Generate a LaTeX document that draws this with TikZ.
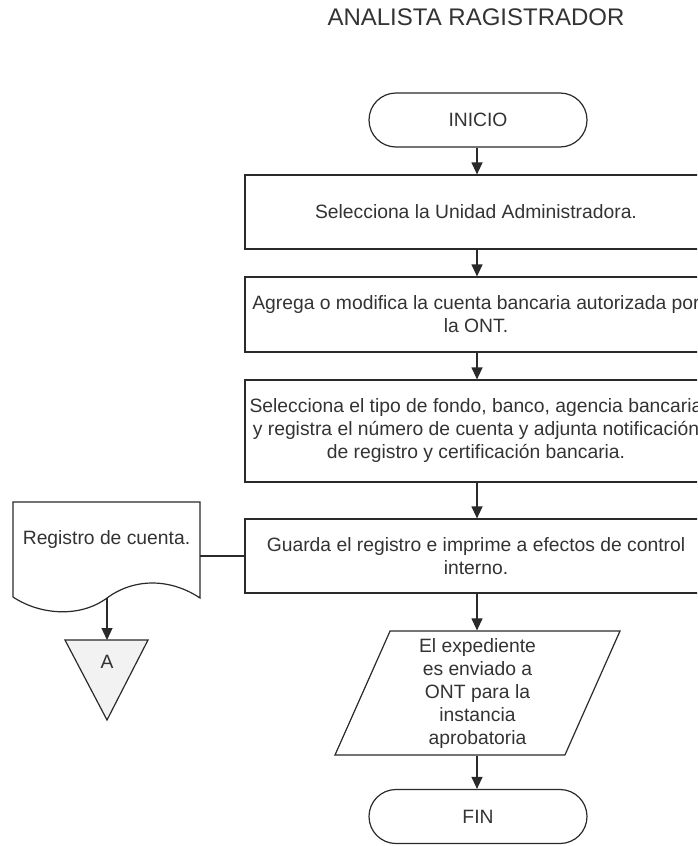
\documentclass[tikz,border=0pt]{standalone}
\usepackage{fontspec}
\setmainfont{Liberation Sans}
\usetikzlibrary{shapes.geometric, arrows.meta, positioning}
\definecolor{txtgray}{HTML}{333333}
\definecolor{linegray}{HTML}{2a2a2a}
\definecolor{trifill}{HTML}{F2F2F2}

\begin{document}
\begin{tikzpicture}[x=1pt, y=-1pt,
  every node/.style={text=txtgray, font=\fontsize{19.3}{23}\selectfont},
  term/.style={draw=linegray, line width=1.2pt, rounded corners=27pt, minimum width=218pt, minimum height=54pt},
  proc/.style={draw=linegray, line width=1.2pt, rectangle, minimum width=462pt, align=center, inner sep=1pt},
  io/.style={draw=linegray, line width=1.2pt, trapezium, trapezium left angle=63.4, trapezium right angle=116.6, trapezium stretches body, minimum width=285pt, minimum height=124pt, align=center, inner sep=0pt},
  flow/.style={draw=linegray, line width=1.2pt, -{Triangle[length=12pt, width=11pt]}},
  conn/.style={draw=linegray, line width=1.2pt}]
  \path[use as bounding box, clip] (0,0) rectangle (697,846);

  \node[font=\fontsize{24}{28}\selectfont] (titulo) at (476,17) {ANALISTA RAGISTRADOR};

  \node[term] (inicio) at (478,120) {INICIO};
  \node[proc, minimum height=74pt] (b1) at (476,212) {Selecciona la Unidad Administradora.};
  \node[proc, minimum height=75pt] (b2) at (476,314.5) {Agrega o modifica la cuenta bancaria autorizada por\\ la ONT.};
  \node[proc, minimum height=102pt] (b3) at (476,431) {Selecciona el tipo de fondo, banco, agencia bancaria\\ y registra el número de cuenta y adjunta notificación\\ de registro y certificación bancaria.};
  \node[proc, minimum height=74pt] (b4) at (476,556) {Guarda el registro e imprime a efectos de control\\ interno.};
  \node[io] (envio) at (477.5,693) {El expediente\\ es enviado a\\ ONT para la\\ instancia\\ aprobatoria};
  \node[term] (fin) at (478,816.5) {FIN};

  % documento
  \draw[conn, fill=white] (13,597) -- (13,502) -- (200,502) -- (200,598)
    .. controls (170,578) and (134,578) .. (107,598)
    .. controls (80,618) and (40,615) .. (13,597);
  \node[minimum width=187pt, inner sep=0pt] (doc) at (106.5,540) {Registro de cuenta.};
  \coordinate (docout) at (107,598);

  % conector A
  \draw[conn, fill=trifill] (65,640) -- (148,640) -- (107,720) -- cycle;
  \coordinate (tritop) at (107,640);
  \node (conA) at (107,662) {A};

  \draw[flow] (inicio.south -| 477,0) -- (b1.north -| 477,0);
  \draw[flow] (b1.south -| 477,0) -- (b2.north -| 477,0);
  \draw[flow] (b2.south -| 477,0) -- (b3.north -| 477,0);
  \draw[flow] (b3.south -| 477,0) -- (b4.north -| 477,0);
  \draw[flow] (b4.south -| 477,0) -- (envio.north -| 477,0);
  \draw[flow] (envio.south -| 477,0) -- (fin.north -| 477,0);

  \draw[conn] (b4.west) -- (b4.west -| doc.east);
  \draw[flow] (docout) -- (tritop);
\end{tikzpicture}
\end{document}
